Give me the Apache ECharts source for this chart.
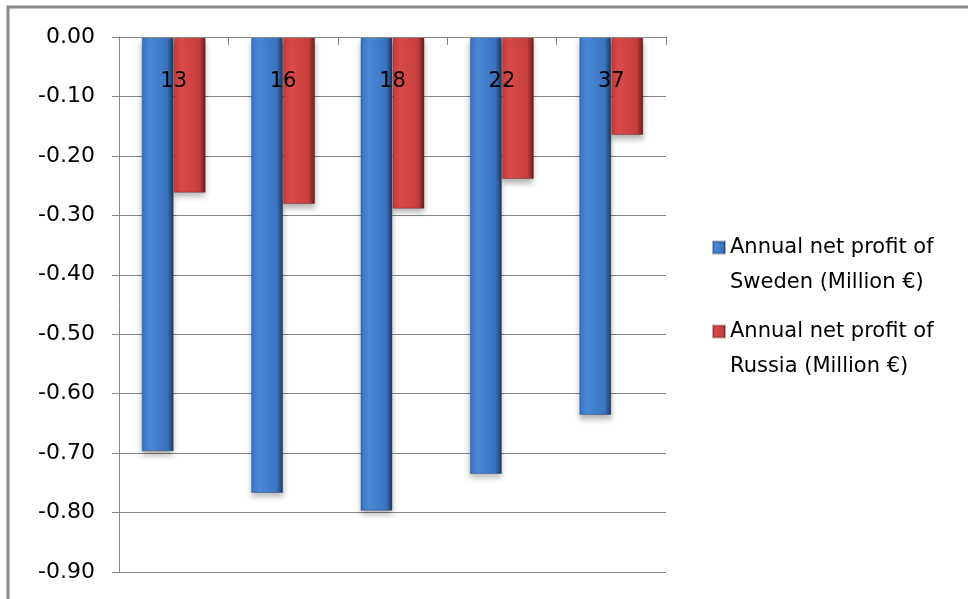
<!DOCTYPE html>
<html>
<head>
<meta charset="utf-8">
<script src="https://cdn.jsdelivr.net/npm/echarts@6/dist/echarts.min.js"></script>
<style>
  html, body { margin: 0; padding: 0; background: #fff; }
  #chart { width: 968px; height: 599px; }
</style>
</head>
<body>
<div id="chart"></div>
<script>
// Category labels shown along the zero line
const categories = ['13', '16', '18', '22', '37'];
// Annual net profit values (Million €)
const swedenProfit = [-0.697, -0.767, -0.797, -0.735, -0.636];
const russiaProfit = [-0.262, -0.281, -0.289, -0.239, -0.165];
// Value-axis ticks
const yTicks = { min: -0.9, max: 0, step: 0.1 };

const seriesNames = [
  'Annual net profit of Sweden (Million €)',
  'Annual net profit of Russia (Million €)'
];

const FONT = '"DejaVu Sans", sans-serif';

function cylinder(light, mid, edge) {
  return new echarts.graphic.LinearGradient(0, 0, 1, 0, [
    { offset: 0, color: mid },
    { offset: 0.25, color: light },
    { offset: 0.8, color: mid },
    { offset: 1, color: edge }
  ]);
}

const blueFill = cylinder('#4a89d8', '#3a73c0', '#1c3a66');
const redFill = cylinder('#da4a4a', '#c63c3c', '#6a1c1c');

const chart = echarts.init(document.getElementById('chart'));

// One legend block per series; a leading blank line keeps the swatch
// level with the first line of the wrapped name.
function legendBlock(name, top) {
  return {
    data: [name],
    orient: 'vertical',
    left: 707,
    top: top,
    icon: 'rect',
    itemWidth: 12,
    itemHeight: 12,
    itemGap: 0,
    selectedMode: false,
    formatter: n => '\n' + n.replace(' of ', ' of\n'),
    textStyle: {
      fontFamily: FONT,
      fontSize: 21,
      color: '#000',
      lineHeight: 35
    }
  };
}

chart.setOption({
  animation: false,
  backgroundColor: '#fff',
  graphic: [{
    type: 'polyline',
    shape: { points: [[8, 599], [8, 7], [968, 7]] },
    style: { stroke: '#888888', lineWidth: 3, fill: null },
    silent: true
  }],
  legend: [
    legendBlock(seriesNames[0], 190),
    legendBlock(seriesNames[1], 274)
  ],
  grid: {
    left: 119, right: 302, top: 37, bottom: 27,
    containLabel: false,
    outerBoundsMode: 'none'
  },
  xAxis: {
    type: 'category',
    position: 'top',
    data: categories,
    z: 10,
    axisLine: { onZero: false, lineStyle: { color: '#868686', width: 1 } },
    axisTick: { show: true, inside: true, length: 8, lineStyle: { color: '#868686' } },
    axisLabel: {
      inside: true,
      margin: 34,
      fontFamily: FONT,
      fontSize: 21,
      color: '#000'
    },
    splitLine: { show: false }
  },
  yAxis: {
    type: 'value',
    min: yTicks.min,
    max: yTicks.max,
    interval: yTicks.step,
    axisLine: { show: true, lineStyle: { color: '#868686', width: 1 } },
    axisTick: { show: true, length: 7, lineStyle: { color: '#868686' } },
    axisLabel: {
      margin: 24,
      fontFamily: FONT,
      fontSize: 22,
      color: '#000',
      formatter: v => v.toFixed(2)
    },
    splitLine: { show: true, lineStyle: { color: '#868686', width: 1 } }
  },
  series: [
    {
      name: seriesNames[0],
      type: 'bar',
      data: swedenProfit,
      barWidth: 32,
      barGap: '0%',
      itemStyle: {
        color: blueFill,
        borderColor: 'rgba(20,40,80,0.35)',
        borderWidth: 1,
        shadowColor: 'rgba(0,0,0,0.3)',
        shadowBlur: 6,
        shadowOffsetY: 4
      }
    },
    {
      name: seriesNames[1],
      type: 'bar',
      data: russiaProfit,
      barWidth: 32,
      barGap: '0%',
      itemStyle: {
        color: redFill,
        borderColor: 'rgba(80,20,20,0.35)',
        borderWidth: 1,
        shadowColor: 'rgba(0,0,0,0.3)',
        shadowBlur: 6,
        shadowOffsetY: 4
      }
    }
  ]
});
</script>
</body>
</html>
